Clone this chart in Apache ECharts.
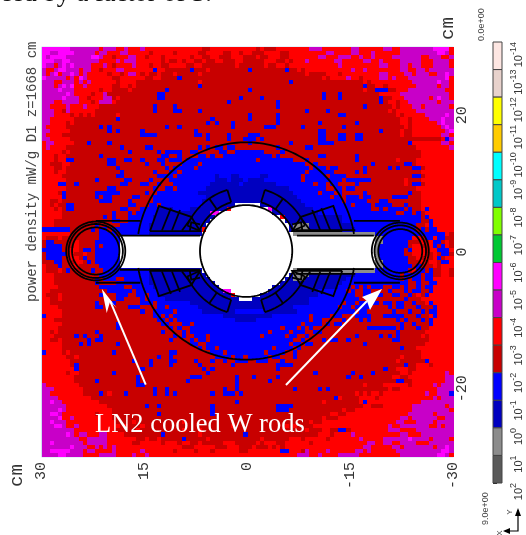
<!DOCTYPE html>
<html><head><meta charset="utf-8">
<style>html,body{margin:0;padding:0;background:#fff}#c{width:526px;height:535px}</style>
<script src="https://cdn.jsdelivr.net/npm/echarts@6/dist/echarts.min.js"></script>
</head><body><div id="c"></div>
<script>
// exponent of the lower edge of each colour band, top of the colour bar first
const bandExponents = [-14,-13,-12,-11,-10,-9,-8,-7,-6,-5,-4,-3,-2,-1,0,1];
const bandColors = ['#fde6e2','#e8d2cc','#ffff00','#ffcc00','#00ffff','#00c8c8','#80ff00','#00c832','#ff00ff','#c800c8','#ff0000','#c80000','#0000ff','#0000c0','#8c8c8c','#5a5a5a'];
const letterBands = {M:-6,m:-5,r:-4,d:-3,B:-2,b:-1,g:0};
const xTicks = [30,15,0,-15,-30];
const yTicks = [20,0,-20];
// power density band per 0.6 cm cell, row by row from y=+30, column by column from x=+30; '.' = no tally
const rows = [
"MMMMMMMmmm mmmmrmmmrr mrrrmrrrrr rrrrrrrrrd drrrrrrrrr rrdrdddrrr rrrrrmmmrr rrrrrmmrrr rrrmmrrmmm mmmmmMMMMr",
"MMmmMMMMmm mmmrmmrrrm mrrrrrdrrr rrdrrrrrdd rrrrddrrdr rdddrrrrdd rrrrrrrrrm mrrrrmmrrr mrrrrrrmmm mmmmmmMMmr",
"MmMMMMmmmm mmMMmrrdrr rmmrrdrrrd rrrrrrdrrd drrdddrrrd ddrddrrrdd rrrrrrrmmr rrmmmrrmrr mrrrrmmmmm mmrrmmmrrm",
"MMMmmMMmmm mmmmrrrrmr mmmrrrrrrd rddrdrrddr ddrrdddrrd ddddrrrddr drrrmrrrrr rmmrrrrrmm rrmrrrrmmm mmrrrmmmmr",
"MmmrmMmMmm mmrrrmrdrr rrmrrrdrrd drrrrddrrd dddddddrdd ddddrddrrd rrrrrrrrrr rrmrrrrrrr rrmmrrrmmr mmrrrmmmmr",
"mrrmMMmmmr mmrrdrrrmm rrrrrrrBrr ddddddBddd rddddddddd BddddddddB ddrdrrrrrr rrrrrmrrmr rrrrrrrmmr rmmrmmmmmm",
"mrmMrmmMmr mrrrrrdrrd rmmrdrddrd ddrdddddrd dddddddddd dddddddddd ddddrddddr rrdrrrrrrr rrmmrrrrmm rmmmrrmmMm",
"MmmmmmrmrM mrrrrrrddr rrrrrddrrd dddBdddddd dddddddddd dddddddddd ddddddddrd rrrrmrrdrr rrmmrmrrrm mmmmmmmmMr",
"mmmrrmmmrm rmrrrrrrdr rrrddddddd ddddddddrd dddddddddd dddddddddd Bddddddddd ddddddddrd rrrrrrrrrr mmmmmmMmmr",
"mmmrmMmMrr mrrrrrrddr rdrddddddd ddddddddBd dddddddddd dddddddddd dddddddddd ddddddddBd drrdrrrrrr rmmmmmrmmr",
"mmmmMmmmrr rrrrdrrddd drdddddddd Bddddddddd dddddddddd Bddddddddd dddddddddd ddddddddrd dBBBddrrrm mmmmmmmmrr",
"mmmmmmMmrr rrdrrmdddd ddddddddBB dddddddddd dddddddddd dddddddddd ddddddddBd ddBddddddd ddrrrrrmmm mmmmmmmmmr",
"mmmmmMmmmr rdrrrmmdrd ddddddddBB dddddddddd ddddddddBd dddBdddddd ddddddddBd ddBddddddd ddBddrrrmm mmmmrmMmmr",
"mmmrrmmmmr rrdrmmmrdd dddddddddd dddddddddd dddddBdddd dddddddBdd dddddddddd dddddddddd ddBdrrdrrm mmmmmmrmmm",
"mmrrrrmrrr mrrrdddddd dddddddBdd ddBddddddd dddddddddd dddddddBdd dddddddddd ddddddddBd dddddrdrrr mmrmmmmmmr",
"mmmrrdmrrr rrrddddddd dddddddBdd ddBBddddBd dddddddddd dddddddddd ddddBddddB dddddddddd ddddrdrrrr rmmmmmmmmm",
"mmmrrrrdrd rdrdddddrd dddddddddd dddddddddd dddddddddd BddddddBdd dddddddddd ddBBdddddd ddddddrdrr rrrmmmmmMm",
"mmrrrrrrdd ddddddddBd dddddddddd dddddddddd dBdddddddd BddddddBdd dddddddddd dddddddddd dddddddrrd rrrrmmmMmm",
"mmrrrrdrdd dddddddddd dddddddddd dddddddddd BdBdddBddd dddddddBdd dddddddBdd ddddddBddd dddddddrrd rrrrrrmMmm",
"mrrrrrdddd ddddBdBddd dddddddddd BddBdddddd ddddddBddd ddddBBBddd dddBdddddd dddBdddddd ddddddddrd rrrrrrrmMm",
"mmrrrrrddd ddddddBdBd ddddBddddd dddddddBdd dddddddddd dddddddddd dddddddBBd dddddddddd ddBddddrdd rrrrrrrrmM",
"mrrrrddddd dddddddddd ddddBBBBdd dddddddBBd BddddBdddd BBBddddddd dddddddBBd ddBBddBBdd dddddddrdd rrrrrrrmmr",
"mmrrrrrddd dddddddddd dddddddddd dddddddddd BddddBdddB BBdBdddddd dddddddBBd ddBBddBBdd dddddddddd dddddddrBm",
"rmmrrrrrdd dBddddBddd dddddddddd dddddddddd dddddddddd Bddddddddd BddddddBBB Bddddddddd dddddddddB rrrrrrrmmr",
"rmrrrrdddd dddddddddB dddddBBddd ddddddddBd BdBBdBBddd dddddddBdd ddddBBdddd dddddddddd dddddddddd drrrrrrrrm",
"rrrrrdrddd dddddddddd dBddddddBd BBBBddBBdd dddBBddBBB BBBBddddBd dddddddddd dddddddddd dddddddddd ddrrrrrrrr",
"rrrdrrdddd ddddBddddd dddddddddB BddBddddBB dBddBBBBBB BBBBBBdBdd dddddddBBd ddddddBddd dddddddddd ddrrrrrrrr",
"rrrdrrBBdd ddddddBBdd BBddBdddBB dBBBdBBBBB BBBBBBBBBB BBdBBBBBBB BdddBddddd ddddddBddd ddddddrddd drrrrrrrrr",
"rrdddrrddd ddddddBBdd dddddBdddB ddddBBBBdB BBBBBBBBBB BBBBBBBBBB BBBBddBddd dddddddddd BdddddddBB drrrrrrrrr",
"rrrddrdddd ddddddddBd dddddddddd BdBBBBBdBB BBBBBBBBBB BBBBBBBBBB BBBBBdBBBd BBddddddBd ddddBdBddd BBdrrrrrrr",
"rrrdrrdddd dddddddddB dddddddBdd dBBdBBBBBB BBBBBBBBBB BBBBBBBBBB BBBBdBBBBB BdddddBdBd dddddddddd ddrrrrrrrr",
"rrrrrddddd ddddddddBB ddddddddBB BBdBBBBBBB BBbBBBbbBB BBBbbBBBBB BBBdBBBBBd BBBBdddddd dddddddddd BBdrrrrrrr",
"rrrrrrdddd dddBdddddd BBddddBddd dBBBBBBBBB BBbbbBbbbB bbbbBBBBBB BBBdBBBBBB BBBdBBBBBB ddddddddrd ddrrrrrrrr",
"rrrrBBddBd dddddddddB BdddBBddBd ddBBBBBBBB BbbbbbbbBb bbbbbbbBBB BBBBBBdBBd BBddddBddd ddddddddrd BBdrrrrrrr",
"rrrrrrdddd ddddddBBdd dddddddBdd BBdBBBBBBB bbbbbbbbbb bbbbbbbbbb BBBBBBBBBd dBBdBBdddd dddddddddd drrrrrrrrr",
"rrrrdBdddd dddBBBBBBd dddddBddBB BBBBBBBBbb bbbbbbbbbb bbbbbbbbbb bBBBBBBdBB BdBdddddBd dddddddddB ddrrrrrrrr",
"rrrrrBdddd dddBdBBddd ddBBdddBBB BBBBBBBBBB bbbbbbbbbb bbbbbbbbbb bbBBBBBBBB dBBdBBBdBB dddddBBBBd ddrrrrrrrr",
"rrddrddddd ddddBBBddd dBdddddBBB BBBBBBBBBb bbbbbbbbbb bbbbbbbbbb bbbBBBBBBB BBBdBBBBBd ddBBdddddd ddrrrrrrrr",
"rrdrddBBdd dddddddddd dBBdddBBdB BBBBBBBBBb bbbbbbb... ...bbbbbbb bbbbBBBBBB BBBBBdBBBB dBBBBdddBd ddrrrrrrrr",
"rrrdrdBBdd dddddddddB BdddBBBBbb bbBBBBbbbb bbbbbr.... .....Mbbbb bbbbbbBBBB BBBBBBBBBB ddBdBBBBdB ddrBrrrrrr",
"rrrrrddddd dddddddBdd dBdBBBBBbb bbbbbbbbbb bMM....... ......bbbb bbbbbbbBBB BBBBBBBBBB BBBBBBddBB dBdrrrrrrr",
"rrrrrddddd dddddBdBdd dBBBBBBbbb bbbbbbbbbb bb........ ........rb bbbbbbbbbb bbbBBBBBBB BBBBBBBBBB BBdBrrrrrr",
"rrrddddddd dddddddBBd dBBBBBBbbb bbbbbbbbbb b......... .........b bbbbbbbbbb bbbBBBBBBB BBBBBBBBBB BBddBrrrrr",
"rrrddddddd dddBdddddB BBBBBBbbbb bbbbbbbbbb .......... .......... bggggbbbbb bbbbbBBBBB BBBBBBBBBB BddrBrrrrr",
"BBBBBBBddd ddBdBBdBBB BBBBBBbbbb bbbbbbbbbr .......... .......... bggggbbbbb bbbbbbBBBB BBBBBBBBBB BdBdBBrrrr",
"rrrrrrrddd ddddBBBBdB BBBBBBbbbb bbbbbbbbb. .......... .......... .ggggggggg gggggggggg gBBBBBBBBB BBBBBBBBrd",
"rdddrddddd ddddBBBBB. .......... .......... .......... .......... .......... .......... .ggBBBBBBB rrdBBrBBdd",
"dBBdddddrd dddBBBBBB. .......... .......... .......... .......... .......... .......... .ggBBBBBBd ddrdrBBdrd",
"dBBBBdddrd dddBdBBBB. .......... .......... .......... .......... .......... .......... .gBBBBBBBd rrddrBdBrd",
"BBBBBddrrd BBdBBBBBB. .......... .......... .......... .......... .......... .......... .gBBBBBBdB rrrdrrBBBr",
"dBBBBBdrdd rddBBBBBB. .......... .......... .......... .......... .......... .......... .gBBBBBBdd rrrddrdBBd",
"dBBBBddrrd BddBBBBBB. .......... .......... .......... .......... .......... .......... .gBBBBBBBd drdrdrBdrr",
"dddBBdddrr dBdBBBBBB. .......... .......... .......... .......... .......... .......... .ggBBBBBBd ddrdrrdBBr",
"rdddBddrrd ddddBBBBB. .......... .......... .......... .......... .......... .......... .ggBBBBBBB dBdddrdrrr",
"rdddrdBddd ddBddBBBBB BBBBBBbbbb bbbbbbbbb. .......... .......... .ggggggggg gggggggggg gBBBBBBBBd rBBdBddrrd",
"rrrddddddd ddddBBBBBB BBBBBBbbbb bbbbbbbbbb .......... .......... bggggbbbbb bbbbbbBBBB BBBBBBBdBB BBdBBddrrd",
"rrrddddddd dddBdBBBdd BBBBBBbbbb bbbbbbbbbb b......... .........b bgggbbbbbb bbbbBBBBBB BBBBBBBdBd BBdBBrrrrr",
"rrrddddddd dddBddddBB BBBBBBbbbb bbbbbbbbbb bb........ ........bb bbbbbbbbbb bbbBBBBBBB BBBBBBBBBd dBddBBrrrr",
"rrrrdddddd ddddBBBBBB ddBBBBBbbb bbbbbbbbbb bbb....... ......bbbb bbbbbbbbbb bbBBBdBdBd BBBddBBdBd dBdBBrrrrr",
"rrdddddddd ddddddBBBB BBdBBBBBbb bbbbbbbbbb bbbbMM.... .....bbbbb bbbbbbbBBB BBBBdBddBB ddddBdddBd BBddBrrrrr",
"rdddrddddd ddddBdddBB BddBBdBBbb bbbbbbbbbb bbbbbbr... ...bbbbbbb bbbbbbbBBB BBBBBBddBB dBBddBBddB drdBrrrrrr",
"rrddrddddd ddddddddBB ddddBdBBBB bbbbbbbbbb bbbbbbbb.. .bbbbbbbbb bbbbbBBBBB BBBBBBBddd ddddddddBd ddrrrrrrrr",
"rrdddddddd dddBdddBdd ddddBBBdBB BBBBBBbbbb bbbbbbbbbb bbbbbbbbbb bbbbbBBBBB BBBdBBdBBB BBdBBdBBdd BddrBrrrrr",
"rrrrdddddd dddBBddddd dBBBddddBB dBBBBBBBbb bbbbbbbbbb bbbbbbbbbb bBBBBBBBBB BBdBBdBBBB ddddBdBBdd dBdddBrrrr",
"rrrrrddddd dddddddddd ddddBddBBB BBdBBBBBBb bbbbbbbBBB BBBBbbbbbb bbBBBBBBBB BBBBBBdBBd dddddBdddB ddBdBBrrrr",
"Brrrrddddd dddddddddd dddddddBBd BdBBBBBBBB BBBBbbbbbb bbbbbbBBBB BBBBBdBBBB dBBdddBBBB dddBBBBBdd dBddrBrrrr",
"rrrddddddd dddddddddd ddddddddBB dBdBBBBBBB BBBBBBBbbb bbBBBBBBBB BBBBBdBBdd dddBdddBdB ddddddBdBd ddBdBrrrrr",
"rrrrrddddd ddddddddBd dddddddddB BdddBBdBBB BBBBBBBBBB BBBBBBBBBB BBBdBBBBdB dBBddddddd dddddddBdd BdddBrrrrr",
"rrrrdddddd ddddddddBd dddddddddd dBdBddBBBB BBBBBBBBBB BBBBBBBBdB BBdBdBdddd dddddddddB BBBBBBdBdd dBddrrrrrr",
"rrdrdddddd dddBdddddd dddddddddB ddddBdBBBB BBBBBBBBBB BBBBBdBBBB dBBBddBBdd dddddddddd ddddddBddd dddrrrrrrr",
"rrrdddddBd BdddBddddd dddddddddd ddBdBddBBB dBBBBBBBBB BBBdBBBBBd BBddBddddd ddddddBddd ddBdBdBddd ddrdrrrrrr",
"rrddrddddd dBdBBddddd dddddddddd dBddddBdBB dBBBBBBBBB BBBBBBBBBB BddBddddBd BBddBddddd dddddBBddd ddddrrrrrr",
"rrrrrddddB dBddddddBd dddddddddd ddddddBBdd BBBBBBBBBB BBBBBBBBBB dBBdBBdddd ddddddddBd dddddddddd dddrrrrrrr",
"rrrrrddddd dddddddddd dddddddddd ddddddddBd BBdBBBBBBB BBBBBBdBBB BdBddddddd dddddddddd dddddddBdd drrrrrrrrr",
"Brrrrdrddd dddddddBdd dddddddddd dBBddddddd dBBBdBBBBB BBBBdBBBBd dBdddddddd dddddddddd dddddddddd ddrrrrrrrr",
"rrrrrrddrd dddddddddd ddddddddBd dBdddddddd ddBBBBdBBd BBBBBdBBdd dBdddddddd dddddddddd dddddddrdd ddrrrrrrrr",
"rrrrrrrddd dddddddddd ddBdddBddd dBBddddBdd dBddBddBBB ddBBBdddBd dddddddddd dddddddddd ddddddrddd dddBrrrrrr",
"rrrrrrrdBd dddddddddd ddddddBddd dBddddddBd ddddddBddd dddddddBBB Bddddddddd dddddddddd ddddddddBd drrrdrrrrr",
"rrrrrrrrBd dddddddddd ddddBddddd dddddddddB dBdddddddd dddddddBdd dddddddddd dddddddddd dddBddrrrd drrrrrrrrr",
"rrrrrrdrrd dddddddBdd dddddddddd dddddddddd Bddddddddd dddddddddd ddddddBddd dddddBdddd Bddddddrrd rrrrrrrrmr",
"rrrrrrrrdd dddddddddd dddBdddddd ddddddBBBd dddddddBdd dBdddddBdd dddddddddd ddddBddBdd dddddrrddr rrrrrrrrmm",
"rrrrrrrrdd dddBdddddd dddBdddddd dddddBdddd dddddddBdd dddddBdddd dddddddddd dddddddddd ddddddBBdd rrrrrrrrmm",
"mrrrrrrrrd dddddddddd dddBBddddd dddddddddd dddddddBdd dddddddddd dddddddddd ddddddddrd dddrrrrrrd rrrrrmrmmm",
"mmmrrrrrrr dddddddddd dddddddBdd Bddddddddd ddddBddBdd dddddddddd dBdddddBdB dddddddddd ddddrddrrr rrrrrrmmmm",
"mmrrrrrrrr ddddBdrddd BddddddBdd BdBddddddd dBddBBBdBd dddddddddd dddddddddd ddddddrdrd rrdrrrrrrr rrrmrrmmmB",
"mmmmrrrrrr rrdddddddd dddddddddd dddddddddd dddddddddd dddddddddd dddddddddd dBrddddrrr rdrrrrrrrr rrrrrmrmmm",
"mmMmmrrrrr rrrrdddddd dddddddddd dddddddddd dddddddBdd dddddddddd ddddddddrd dddddddrBr rrrrrrrrrr rrmmmmmmmm",
"mmmmmmrrrr rrrrrrdddd dddddBddBd dddddddddd dBdddddddd dddddddBBB Bddddddddd ddddddddrr dddrrrrrrr mmmmmmmmrm",
"mmmmMmrrrr rrrrrrrddd dddddddddd dddddddddd dBdddddddd dddddddBBB dddddddddd dddrddrrrr rrrrrrrrrr mmmmmmmmmr",
"mmMMmrrrrr rrrdrrrddd ddddddddBd dddddddddd dBdddddddd dddddddddd dddddddddd rrddrrrrrr rrrrrrrrrm mmmmmrmmmm",
"mmmmMrrmrr rrrrrrrddd dddddddddd dddddddddd dddddddddd dddddddddd ddddddddrd ddrrrrrrrr rrrrrrrmmr mmmmmmrrmm",
"mmMmmmrrrr rrrrrrrrdd ddrddddddd ddddrddddd dddddddddd dddddddddd dddddrddrr rrrrrrrrrr rrrrrrmmrr rmmmmrmmmm",
"mmmMMmrrmr rrrrrrrrrd rdddrddddd dddddddddd ddddddrddd dddddddddr drddddrrrr rrrrrrrrrr rrrrmrrmmm mmmmrrmrmm",
"mmmmmmmmrr rrrrrrrrdd dddrdddddd ddddrdddrd dddddddddd dddddddddd ddddrdddrr ddBBdrrrrr rrrrmmmrrr rmmmmmmmmm",
"mmmmmmMmrm mrrrmmrrrr dddddddddB ddddddddrd dddddddddB dddddddddd dddddddrrr drrrrmrrrr rrrrrrrmmr rrmmmmmmmm",
"mmmmmmmmmr rmmmmmrrrr rrrddrddrd ddddBddddd rddddddddd dddrdddddd rrrdrrrrrd rrrrrrrmrr rrrmmmmmmM mmmmrmmmmr",
"mmMmmmmmmm rmmmmmrrrr rrddrrrrrd rrrdrrddrd ddddrrrddd ddrdrrrddr rrrrrdrrrr rrrrrrrrrm mrrmmrrmmm mrrrmmmmmm",
"mmmmmmmMmm mrrmrmrmrr rrrrrrrrrr rrrrdddrrr rrdddrrrdd drdddrdrdr rrrrrrrrrr rrrrrrrrmm rrrrrmmrmm mmmmmrmmMm",
"mmMMMMMmmm rmmrrrrmrr rrrrmrrrrr rrdrrrrdrr rdrrrrrrdd rrrrrrrrBB rrrdmrrrrm rrrrrrmmrm rrrrrrmmmm mmmmmmmMMm",
"mmmmMMmmmm rrrrmmmmrr rrmrrmrrrr rrrrrrrrrr rrrrrrrrrr rrrrrrrrrr rrmmmrrmrr rrmmmmmrrr rrrrrrrmmm mmmmmmMMmr"
];
const cellSize = 0.6;
// outline geometry in cm
const voidCentre = [0.2, 0.15];
const voidRadius = 6.72;
const shieldRadius = 15.9;
const shieldArcs = [[9,171],[189,351]];
const coilRadii = [7.45, 9.35];
const coilSpan = [23.5, 73];
const coilDividers = [55];
const outerBlock = [[14.0,2.9],[12.7,6.6],[8.0,5.0],[6.7,2.9],[14.0,2.9]];
const outerDividers = [
  [[12.26,3.0],[10.95,6.28]],
  [[10.8,3.0],[9.63,5.99]],
  [[9.34,3.0],[7.88,4.96]],
  [[8.2,2.9],[8.0,4.2],[6.7,3.9]]
];
const rods = [
  {x:22.1, y:0.15, radii:[4.3,3.95,3.45]},
  {x:-22.25, y:0.15, radii:[4.15,3.75,3.2]}
];
const straightLines = [
  [[22.1,4.55],[15.6,4.55]], [[22.1,-4.5],[15.6,-4.5]],
  [[-15.5,4.55],[-22.2,4.55]], [[-15.5,-4.5],[-22.2,-4.5]],
  [[18.6,2.4],[6.9,2.4]], [[18.6,-2.6],[6.9,-2.6]],
  [[-7.2,2.4],[-18.4,2.4]], [[-7.2,-2.5],[-18.4,-2.5]],
  [[-7,3.2],[-15.7,3.2]], [[-7,-3.2],[-15.7,-3.2]]
];
const arrows = [
  {tail:[14.82,-19.42], head:[[20.5,-8.93],[21.22,-5.37],[19.05,-8.2],[20.0,-7.2]]},
  {tail:[-5.6,-19.46], head:[[-16.67,-6.59],[-19.59,-5.41],[-17.84,-8.49],[-17.4,-7.17]]}
];

const cellData = [];
rows.forEach((row, r) => {
  row.replace(/ /g, '').split('').forEach((ch, c) => {
    if (letterBands[ch] !== undefined) cellData.push([30 - (c + 0.5) * cellSize, 30 - (r + 0.5) * cellSize, letterBands[ch]]);
  });
});
const bandColorOf = e => bandColors[bandExponents.indexOf(e)];
const snap = v => Math.round(Math.round(v * 100) / 100 + 0.01);

function renderCell(params, api) {
  const a = api.coord([api.value(0) + cellSize / 2, api.value(1) + cellSize / 2]);
  const b = api.coord([api.value(0) - cellSize / 2, api.value(1) - cellSize / 2]);
  const x0 = snap(a[0]), y0 = snap(a[1]), x1 = snap(b[0]), y1 = snap(b[1]);
  return {type:'rect', shape:{x:x0, y:y0, width:x1 - x0, height:y1 - y0}, style:{fill:bandColorOf(api.value(2))}};
}
function arcPoints(cx, cy, R, a0, a1) {
  const n = Math.max(8, Math.round(Math.abs(a1 - a0) / 2)), pts = [];
  for (let i = 0; i <= n; i++) {
    const t = (a0 + (a1 - a0) * i / n) * Math.PI / 180;
    pts.push([cx + R * Math.cos(t), cy + R * Math.sin(t)]);
  }
  return pts;
}
function renderOutlines(params, api) {
  const polys = [];
  const [cx, cy] = voidCentre;
  polys.push(arcPoints(cx, cy, voidRadius, 0, 360));
  shieldArcs.forEach(s => polys.push(arcPoints(cx, cy, shieldRadius, s[0], s[1])));
  rods.forEach(rod => rod.radii.forEach(R => polys.push(arcPoints(rod.x, rod.y, R, 0, 360))));
  straightLines.forEach(l => polys.push(l));
  [[1,1],[-1,1],[1,-1],[-1,-1]].forEach(([sx, sy]) => {
    const place = p => [cx + sx * p[0], cy + sy * p[1]];
    polys.push(outerBlock.map(place));
    outerDividers.forEach(d => polys.push(d.map(place)));
    coilRadii.forEach(R => polys.push(arcPoints(0, 0, R, coilSpan[0], coilSpan[1]).map(place)));
    coilSpan.concat(coilDividers).forEach(angle => polys.push(arcPoints(0, 0, coilRadii[0], angle, angle).slice(0, 1)
      .concat(arcPoints(0, 0, coilRadii[1], angle, angle).slice(0, 1)).map(place)));
  });
  const children = polys.map(p => ({type:'polyline', shape:{points:p.map(q => api.coord(q))}, style:{stroke:'#000', fill:null, lineWidth:1.8}}));
  arrows.forEach(a => {
    children.push({type:'line', shape:{x1:api.coord(a.tail)[0], y1:api.coord(a.tail)[1], x2:api.coord(a.head[3])[0], y2:api.coord(a.head[3])[1]}, style:{stroke:'#fff', lineWidth:2}});
    children.push({type:'polygon', shape:{points:a.head.map(q => api.coord(q))}, style:{fill:'#fff'}});
  });
  return {type:'group', children};
}
function renderBand(params, api) {
  const a = api.coord([0, api.value(0)]), b = api.coord([1, api.value(0) + 1]);
  return {type:'rect', shape:{x:a[0], y:a[1], width:b[0] - a[0], height:b[1] - a[1]}, style:{fill:bandColors[params.dataIndex], stroke:'#444', lineWidth:1}};
}
const mono = '"Liberation Mono", monospace';
const chart = echarts.init(document.getElementById('c'), null, {renderer:'canvas'});
chart.setOption({
  animation:false,
  backgroundColor:'#fff',
  grid:[
    {left:41.5, top:47, width:412, height:410, show:true, borderColor:'#cfe0f2', borderWidth:1, backgroundColor:'#fff'},
    {left:493, top:42, width:9, height:441}
  ],
  xAxis:[
    {gridIndex:0, type:'value', inverse:true, min:-30, max:30, interval:15, axisLine:{show:false}, axisTick:{show:false}, splitLine:{show:false},
     axisLabel:{rotate:90, margin:5, color:'#333', fontFamily:mono, fontSize:15, hideOverlap:false, showMinLabel:true, showMaxLabel:true, formatter:v => xTicks.includes(v) ? String(v) : ''}},
    {gridIndex:1, type:'value', min:0, max:1, show:false}
  ],
  yAxis:[
    {gridIndex:0, type:'value', position:'right', min:-30, max:30, interval:10, axisLine:{show:false}, axisTick:{show:false}, splitLine:{show:false},
     axisLabel:{rotate:90, margin:1, color:'#333', fontFamily:mono, fontSize:15, formatter:v => yTicks.includes(v) ? String(v) : ''}},
    {gridIndex:1, type:'value', position:'right', inverse:true, min:-14, max:2, interval:1, splitLine:{show:false},
     axisLine:{show:false}, axisTick:{show:true, length:4, inside:false, lineStyle:{color:'#222', width:1}},
     axisLabel:{rotate:90, margin:7, align:'right', showMinLabel:true, showMaxLabel:true, hideOverlap:false,
       formatter:v => '{a|10}{b|' + v + '}',
       rich:{a:{fontFamily:'"Liberation Sans"', fontSize:11, color:'#333', verticalAlign:'bottom', lineHeight:15},
             b:{fontFamily:'"Liberation Sans"', fontSize:9, color:'#333', verticalAlign:'top', lineHeight:15}}}}
  ],
  series:[
    {type:'custom', xAxisIndex:0, yAxisIndex:0, data:cellData, renderItem:renderCell, progressive:0, silent:true, z:2},
    {type:'custom', xAxisIndex:0, yAxisIndex:0, data:[[0,0]], renderItem:renderOutlines, silent:true, clip:false, z:3},
    {type:'custom', xAxisIndex:1, yAxisIndex:1, data:bandExponents.map(e => [e]), encode:{y:0}, renderItem:renderBand, silent:true, z:2}
  ],
  graphic:[
    {type:'text', z:100, x:0, y:8, style:{text:'ced by a factor of 3.', font:'26.5px "Liberation Serif"', fill:'#111', textVerticalAlign:'bottom'}},
    {type:'text', z:100, x:95, y:425, style:{text:'LN2 cooled W rods', font:'26.5px "Liberation Serif"', fill:'#fff', textVerticalAlign:'middle'}},
    {type:'text', z:100, x:32, y:302, rotation:Math.PI/2, style:{text:'power density mW/g D1 z=1668 cm', font:'14px '+mono, fill:'#444', textAlign:'left', textVerticalAlign:'middle'}},
    {type:'text', z:100, x:17, y:487, rotation:Math.PI/2, style:{text:'cm', font:'19px '+mono, fill:'#333', textAlign:'left', textVerticalAlign:'middle'}},
    {type:'text', z:100, x:448, y:40, rotation:Math.PI/2, style:{text:'cm', font:'19px '+mono, fill:'#333', textAlign:'left', textVerticalAlign:'middle'}},
    {type:'text', z:100, x:482, y:41, rotation:Math.PI/2, style:{text:'0.0e+00', font:'9px "Liberation Sans"', fill:'#444', textAlign:'left', textVerticalAlign:'middle'}},
    {type:'text', z:100, x:486, y:525, rotation:Math.PI/2, style:{text:'9.0e+00', font:'9px "Liberation Sans"', fill:'#444', textAlign:'left', textVerticalAlign:'middle'}},
    {type:'text', z:100, x:510, y:512, rotation:Math.PI/2, style:{text:'Y', font:'8px "Liberation Sans"', fill:'#444', textAlign:'center', textVerticalAlign:'middle'}},
    {type:'text', z:100, x:500, y:533, rotation:Math.PI/2, style:{text:'X', font:'8px "Liberation Sans"', fill:'#444', textAlign:'center', textVerticalAlign:'middle'}},
    {type:'polyline', z:100, shape:{points:[[518,510],[518,531],[505,531]]}, style:{stroke:'#000', lineWidth:1.2, fill:null}},
    {type:'polygon', z:100, shape:{points:[[515,516],[518,508],[521,516]]}, style:{fill:'#000'}},
    {type:'polygon', z:100, shape:{points:[[510,528],[503,531],[510,534]]}, style:{fill:'#000'}}
  ]
});
</script></body></html>
